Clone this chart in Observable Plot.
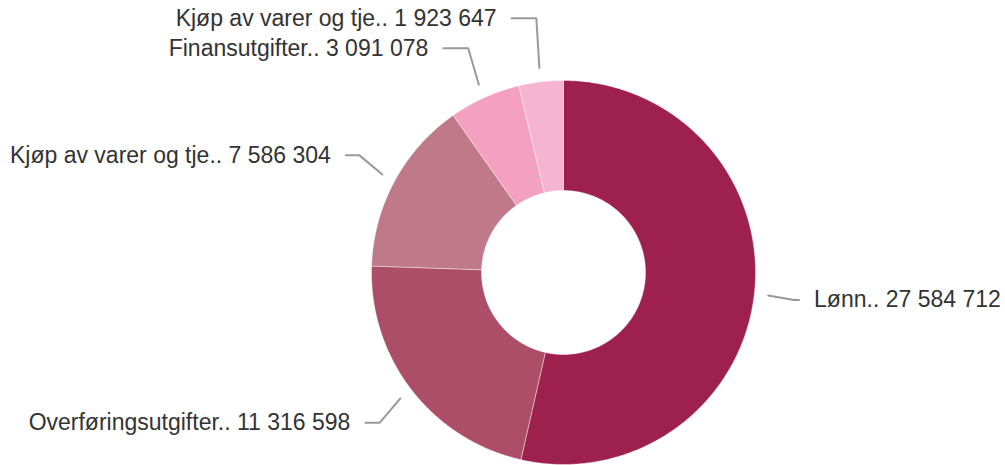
<!DOCTYPE html>
<html><head><meta charset="utf-8">
<script src="https://cdn.jsdelivr.net/npm/d3@7"></script>
<script src="https://cdn.jsdelivr.net/npm/@observablehq/plot@0.6"></script>
<style>body{margin:0;background:#fff;} svg{display:block}</style>
</head><body><div id="chart"></div>
<script>
// ---- data ----
const categories = ["Lønn", "Overføringsutgifter", "Kjøp av varer og tje", "Finansutgifter", "Kjøp av varer og tje"];
const values = [27584712, 11316598, 7586304, 3091078, 1923647];
const colors = ["#9e214d", "#ad4e69", "#c07989", "#f4a0c1", "#f5b5d0"];

// ---- layout ----
const W = 1005, H = 465;
const cx = 563, cy = 272, R = 192, RI = 82;
const total = d3.sum(values);
const fmt = v => d3.format(",")(v).replace(/,/g, " ");

// slice polygons (angles clockwise from 12 o'clock)
const slices = [];
let acc = 0;
values.forEach((v, i) => {
  const a0 = acc / total * 2 * Math.PI;
  acc += v;
  const a1 = acc / total * 2 * Math.PI;
  slices.push({i, a0, a1, mid: (a0 + a1) / 2});
});
const slicePts = [];
slices.forEach(s => {
  const n = Math.max(2, Math.ceil((s.a1 - s.a0) / 0.01));
  for (let k = 0; k <= n; k++) {
    const a = s.a0 + (s.a1 - s.a0) * k / n;
    slicePts.push({i: s.i, color: colors[s.i], x: R * Math.sin(a), y: R * Math.cos(a)});
  }
  for (let k = n; k >= 0; k--) {
    const a = s.a0 + (s.a1 - s.a0) * k / n;
    slicePts.push({i: s.i, color: colors[s.i], x: RI * Math.sin(a), y: RI * Math.cos(a)});
  }
  slicePts.push({i: s.i, color: colors[s.i], x: R * Math.sin(s.a0), y: R * Math.cos(s.a0)});
});

// labels with simple collision avoidance
const labels = slices.map(s => ({
  i: s.i,
  side: Math.sin(s.mid) >= 0 ? 1 : -1,
  mid: s.mid,
  ly: (R + 54) * Math.cos(s.mid),
  text: categories[s.i] + ".. " + fmt(values[s.i])
}));
[1, -1].forEach(side => {
  const L = labels.filter(d => d.side === side).sort((a, b) => a.ly - b.ly); // bottom to top
  for (let k = 1; k < L.length; k++) {
    if (L[k].ly < L[k - 1].ly + 30) L[k].ly = L[k - 1].ly + 30;
  }
});
const RL = 264;
const connPts = [];
labels.forEach(d => {
  const off = Math.sqrt(Math.max(0, RL * RL - d.ly * d.ly)) - (d.side > 0 ? 12 : 4); // label x on outer circle
  d.tx = d.side * off;
  const endX = d.side * (off - 15);
  const sx = (R + 14) * Math.sin(d.mid), sy = (R + 14) * Math.cos(d.mid);
  let kx = (R + 40) * Math.sin(d.mid);
  if (Math.abs(kx) > Math.abs(endX)) kx = endX;
  connPts.push({i: d.i, x: sx, y: sy});
  connPts.push({i: d.i, x: kx, y: d.ly});
  connPts.push({i: d.i, x: endX, y: d.ly});
});

const font = "'Liberation Sans', Arial, sans-serif";
const chart = Plot.plot({
  width: W, height: H, margin: 0,
  x: {domain: [-cx, W - cx], axis: null},
  y: {domain: [-(H - cy), cy], axis: null},
  color: {type: "identity"},
  style: {background: "#fff", fontFamily: font},
  marks: [
    Plot.line(slicePts, {x: "x", y: "y", z: "i", fill: "color", stroke: "#fff", strokeWidth: 0.8, strokeOpacity: 0.5}),
    Plot.line(connPts, {x: "x", y: "y", z: "i", stroke: "#999", strokeWidth: 2}),
    Plot.text(labels.filter(d => d.side < 0), {x: "tx", y: "ly", text: "text", textAnchor: "end", fontSize: 23, fill: "#333", fontFamily: font}),
    Plot.text(labels.filter(d => d.side > 0), {x: "tx", y: "ly", text: "text", textAnchor: "start", fontSize: 23, fill: "#333", fontFamily: font})
  ]
});
document.getElementById("chart").appendChild(chart);
</script>
</body></html>
